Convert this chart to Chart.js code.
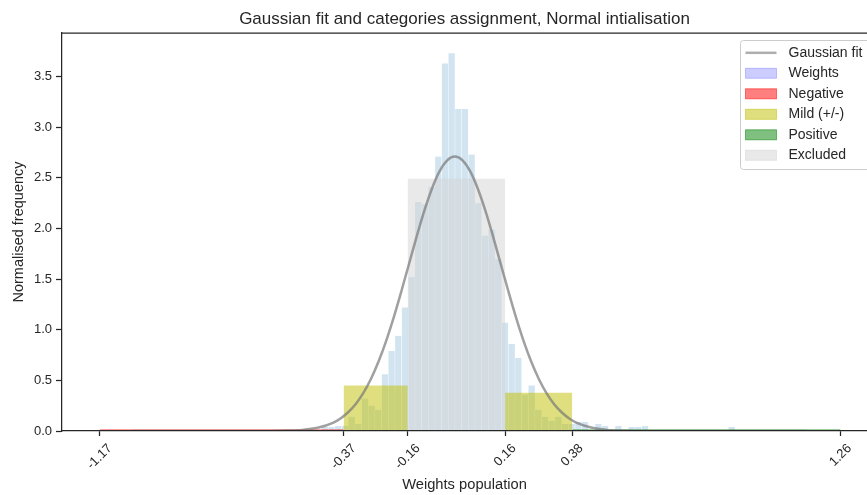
<!DOCTYPE html>
<html>
<head>
<meta charset="utf-8">
<script src="https://cdn.jsdelivr.net/npm/chart.js"></script>
<style>
  html, body { margin: 0; padding: 0; background: #fff; }
</style>
</head>
<body>
<canvas id="chart" width="867" height="495"></canvas>
<script>
// normalised histogram of the weights, regular bins
const binStart = -0.442;
const binWidth = 0.02187;
const weightDensity = [
  0.04, 0.04, 0.05, 0.05, 0.14, 0.07, 0.32, 0.25, 0.21, 0.56,
  0.79, 0.94, 1.22, 1.52, 2.26, 2.24, 2.41, 2.71, 3.63, 3.73,
  3.18, 3.18, 2.73, 2.25, 1.93, 1.99, 1.70, 1.07, 0.86, 0.72,
  0.36, 0.45, 0.21, 0.14, 0.10, 0.14, 0.07, 0.07, 0.09, 0.09,
  0, 0.07, 0.05, 0, 0.05, 0, 0.04, 0.04, 0.05, 0,
  0, 0, 0, 0, 0, 0, 0, 0, 0, 0,
  0, 0.04
];

// category boundaries (also the x ticks)
const xTickValues = [-1.17, -0.37, -0.16, 0.16, 0.38, 1.26];
const xTickLabels = ['-1.17', '-0.37', '-0.16', '0.16', '0.38', '1.26'];
const yTickValues = [0, 0.5, 1.0, 1.5, 2.0, 2.5, 3.0, 3.5];

// category blocks: [from, to, density]
const negativeBlock = [-1.17, -0.37, 0.018];
const mildBlocks = [[-0.37, -0.16, 0.45], [0.16, 0.38, 0.378]];
const positiveBlock = [0.38, 1.26, 0.018];
const excludedBlock = [-0.16, 0.16, 2.49];

// gaussian fit, sampled
const fitX = [-1.065, -0.805, -0.705, -0.605, -0.555, -0.505, -0.455, -0.405,
  -0.38, -0.355, -0.33, -0.305, -0.28, -0.255, -0.23, -0.205, -0.18, -0.155,
  -0.13, -0.105, -0.08, -0.055, -0.03, -0.005, 0.02, 0.045, 0.07, 0.095, 0.12,
  0.145, 0.17, 0.195, 0.22, 0.245, 0.27, 0.295, 0.32, 0.345, 0.37, 0.395,
  0.445, 0.495, 0.545, 0.595, 0.695, 0.795, 1.149];
const fitY = [0, 0, 0, 0.001, 0.004, 0.011, 0.032, 0.081,
  0.124, 0.185, 0.267, 0.376, 0.516, 0.688, 0.893, 1.127, 1.385, 1.654,
  1.924, 2.176, 2.395, 2.566, 2.673, 2.71, 2.673, 2.566, 2.395, 2.176, 1.924,
  1.654, 1.385, 1.127, 0.893, 0.688, 0.516, 0.376, 0.267, 0.185, 0.124, 0.081,
  0.032, 0.011, 0.004, 0.001, 0, 0, 0];

const seriesNames = ['Gaussian fit', 'Weights', 'Negative', 'Mild (+/-)', 'Positive', 'Excluded'];

const INK = '#262626';
const FONT = "'Liberation Sans', Arial, sans-serif";
Chart.defaults.font.family = FONT;
Chart.defaults.color = INK;

function rect([from, to, h]) {
  return [{x: from, y: 0}, {x: from, y: h}, {x: to, y: h}, {x: to, y: 0}];
}

function block(label, pts, fillColor) {
  return {
    type: 'line', label, data: pts, order: 1,
    backgroundColor: fillColor, borderColor: 'transparent', borderWidth: 0,
    pointRadius: 0, tension: 0, fill: 'origin'
  };
}

const legendStyles = [
  {line: 'rgba(120,120,120,0.6)'},
  {fill: 'rgba(0,0,255,0.2)'},
  {fill: 'rgba(255,0,0,0.5)'},
  {fill: 'rgba(191,191,0,0.5)'},
  {fill: 'rgba(0,128,0,0.5)'},
  {fill: 'rgba(211,211,211,0.5)'}
];

// title, top spine, rotated x labels and the boxed legend
const decorations = {
  id: 'decorations',
  afterDatasetsDraw(chart) {
    const {ctx, chartArea: ca} = chart;
    ctx.save();
    ctx.strokeStyle = INK;
    ctx.lineWidth = 1.25;
    ctx.beginPath();
    ctx.moveTo(ca.left, ca.top);
    ctx.lineTo(ca.right, ca.top);
    ctx.stroke();
    ctx.restore();
  },
  afterDraw(chart) {
    const {ctx, chartArea: ca} = chart;
    const xs = chart.scales.x;
    ctx.save();

    ctx.fillStyle = INK;
    ctx.font = '17px ' + FONT;
    ctx.textAlign = 'center';
    ctx.textBaseline = 'middle';
    ctx.fillText('Gaussian fit and categories assignment, Normal intialisation', (ca.left + ca.right) / 2, 19);

    ctx.font = '13px ' + FONT;
    xTickValues.forEach((v, i) => {
      const px = xs.getPixelForValue(v);
      const w = ctx.measureText(xTickLabels[i]).width;
      const cy = ca.bottom + 12 + (w + 9.4) * 0.3536;
      ctx.save();
      ctx.translate(px, cy);
      ctx.rotate(-Math.PI / 4);
      ctx.fillText(xTickLabels[i], 0, 0);
      ctx.restore();
    });

    const lx = ca.right - 126.5, ly = 40.5;
    ctx.beginPath();
    ctx.roundRect(lx, ly, 150, 129, 3);
    ctx.fillStyle = 'rgba(255,255,255,0.8)';
    ctx.fill();
    ctx.strokeStyle = '#cccccc';
    ctx.lineWidth = 1;
    ctx.stroke();

    ctx.font = '14px ' + FONT;
    ctx.textAlign = 'left';
    seriesNames.forEach((name, i) => {
      const cy = 52.8 + i * 20.5;
      const st = legendStyles[i];
      if (st.line) {
        ctx.strokeStyle = st.line;
        ctx.lineWidth = 2.5;
        ctx.beginPath();
        ctx.moveTo(lx + 5, cy);
        ctx.lineTo(lx + 36, cy);
        ctx.stroke();
      } else {
        ctx.fillStyle = st.fill;
        ctx.fillRect(lx + 5, cy - 5, 31, 10);
        ctx.strokeStyle = st.fill;
        ctx.lineWidth = 1;
        ctx.strokeRect(lx + 5, cy - 5, 31, 10);
      }
      ctx.fillStyle = INK;
      ctx.fillText(name, lx + 48, cy);
    });
    ctx.restore();
  }
};

new Chart(document.getElementById('chart'), {
  type: 'line',
  data: {
    datasets: [
      {
        type: 'line', label: seriesNames[0], order: 0,
        data: fitX.map((x, i) => ({x, y: fitY[i]})),
        borderColor: 'rgba(120,120,120,0.7)', borderWidth: 2.5,
        pointRadius: 0, fill: false, cubicInterpolationMode: 'monotone'
      },
      {
        type: 'bar', label: seriesNames[1], order: 2,
        data: weightDensity.map((h, i) => ({x: binStart + (i + 0.5) * binWidth, y: h})),
        backgroundColor: '#d2e4f0', borderColor: 'rgba(255,255,255,0.55)',
        borderWidth: {left: 0.5, right: 0.5, top: 0, bottom: 0},
        barPercentage: 1, categoryPercentage: 1
      },
      block(seriesNames[2], rect(negativeBlock), 'rgba(255,0,0,0.5)'),
      block(seriesNames[3], rect(mildBlocks[0]).concat(rect(mildBlocks[1])), 'rgba(191,191,0,0.5)'),
      block(seriesNames[4], rect(positiveBlock), 'rgba(0,128,0,0.5)'),
      block(seriesNames[5], rect(excludedBlock), 'rgba(211,211,211,0.5)')
    ]
  },
  options: {
    responsive: false,
    animation: false,
    devicePixelRatio: 1,
    layout: {padding: {top: 33, left: 0, right: 0, bottom: 0}},
    plugins: {legend: {display: false}, tooltip: {enabled: false}},
    scales: {
      x: {
        type: 'linear', min: -1.2935, max: 1.3467, offset: false,
        afterBuildTicks: s => { s.ticks = xTickValues.map(v => ({value: v})); },
        afterFit: s => { s.height = 64; },
        ticks: {display: false},
        grid: {offset: false, drawOnChartArea: false, drawTicks: true, tickLength: 5, tickColor: INK, tickWidth: 1.25, z: 1},
        border: {display: true, color: INK, width: 1.25, z: 1},
        title: {display: true, text: 'Weights population', color: INK, font: {size: 14.7}, padding: {top: 0, bottom: 1.5}}
      },
      y: {
        min: 0, max: 3.93,
        afterBuildTicks: s => { s.ticks = yTickValues.map(v => ({value: v})); },
        afterFit: s => { s.width = 62; },
        ticks: {color: INK, font: {size: 13}, padding: 4, autoSkip: false, callback: v => v.toFixed(1)},
        grid: {offset: false, drawOnChartArea: false, drawTicks: true, tickLength: 6, tickColor: INK, tickWidth: 1.25, z: 1},
        border: {display: true, color: INK, width: 1.25, z: 1},
        title: {display: true, text: 'Normalised frequency', color: INK, font: {size: 14.5}, padding: {top: 10.5, bottom: 0}}
      }
    }
  },
  plugins: [decorations]
});
</script>
</body>
</html>
